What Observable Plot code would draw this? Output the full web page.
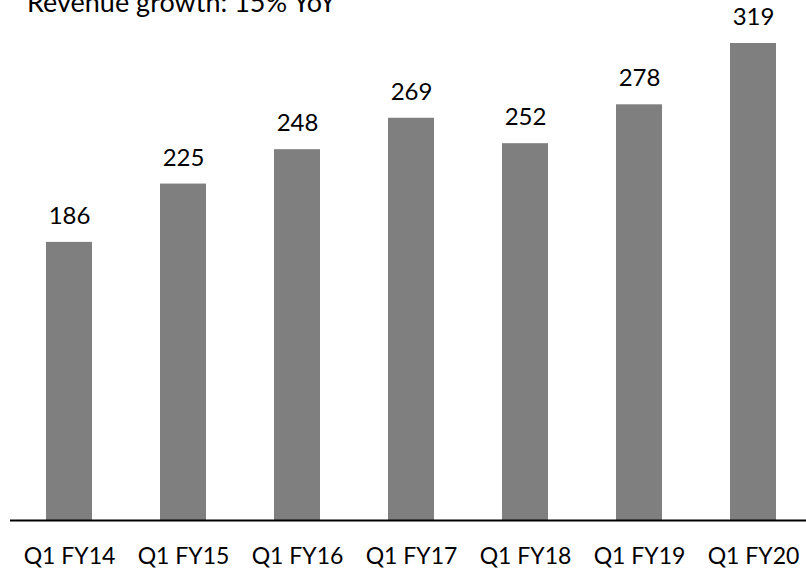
<!DOCTYPE html>
<html>
<head>
<meta charset="utf-8">
<script src="https://cdn.jsdelivr.net/npm/d3@7"></script>
<script src="https://cdn.jsdelivr.net/npm/@observablehq/plot@0.6"></script>
<style>
  html, body { margin: 0; padding: 0; background: #fff; overflow: hidden; }
  #wrap { position: relative; width: 806px; height: 570px; }
  #title { position: absolute; left: 27px; top: -12px; font-family: Lato, sans-serif; font-size: 27px; line-height: 1; color: #000; white-space: nowrap; z-index: 2; }
</style>
</head>
<body>
<div id="wrap">
  <div id="title">Revenue growth: 15% YoY</div>
  <div id="chart"></div>
</div>
<script>
const quarters = ["Q1 FY14", "Q1 FY15", "Q1 FY16", "Q1 FY17", "Q1 FY18", "Q1 FY19", "Q1 FY20"];
const revenue = [186, 225, 248, 269, 252, 278, 319];
const data = quarters.map((q, i) => ({q, v: revenue[i]}));

const chart = Plot.plot({
  width: 806,
  height: 570,
  marginLeft: 10,
  marginRight: 0,
  marginTop: 0,
  marginBottom: 50,
  style: {fontFamily: "Lato, sans-serif", fontSize: "23px", color: "#000", background: "#fff"},
  x: {domain: quarters, range: [10, 812], paddingInner: 0.6, paddingOuter: 0.3, label: null},
  y: {domain: [0, 319], range: [520, 43], axis: null},
  marks: [
    Plot.barY(data, {x: "q", y: "v", fill: "#7f7f7f"}),
    Plot.text(data, {x: "q", y: "v", text: d => String(d.v), dy: -26, fontSize: 24, fill: "#000"}),
    Plot.ruleY([0], {stroke: "#000", strokeWidth: 2}),
    Plot.axisX({tickSize: 0, tickPadding: 27, fontSize: 23, label: null})
  ]
});
document.getElementById("chart").appendChild(chart);
</script>
</body>
</html>
